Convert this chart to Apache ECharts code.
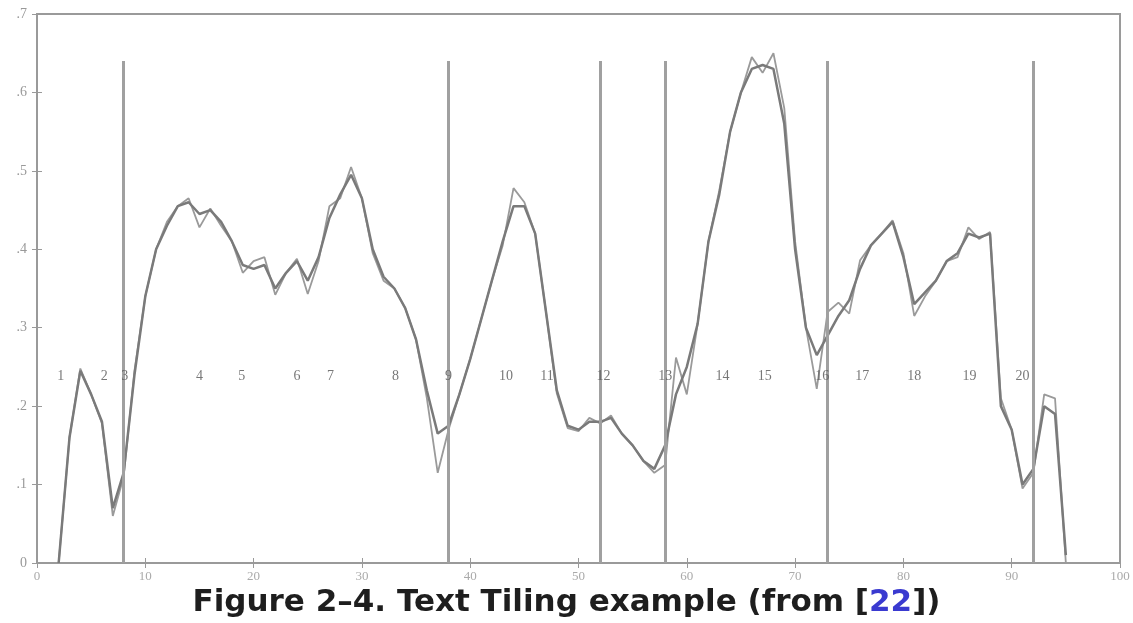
<!DOCTYPE html>
<html><head><meta charset="utf-8">
<script src="https://cdn.jsdelivr.net/npm/echarts@6/dist/echarts.min.js"></script>
<style>html,body{margin:0;padding:0;background:#fff}#c{width:1133px;height:623px}</style>
</head><body><div id="c"></div>
<script>
const xs = [2,3,4,5,6,7,8,9,10,11,12,13,14,15,16,17,18,19,20,21,22,23,24,25,26,27,28,29,30,31,32,33,34,35,36,37,38,39,40,41,42,43,44,45,46,47,48,49,50,51,52,53,54,55,56,57,58,59,60,61,62,63,64,65,66,67,68,69,70,71,72,73,74,75,76,77,78,79,80,81,82,83,84,85,86,87,88,89,90,91,92,93,94,95];
const smoothed = [0.0,0.16,0.245,0.215,0.18,0.07,0.115,0.24,0.34,0.40,0.43,0.455,0.46,0.445,0.45,0.435,0.41,0.38,0.375,0.38,0.35,0.37,0.385,0.36,0.39,0.44,0.47,0.495,0.465,0.40,0.365,0.35,0.325,0.285,0.22,0.165,0.175,0.215,0.26,0.31,0.36,0.41,0.455,0.455,0.42,0.32,0.22,0.175,0.17,0.18,0.18,0.185,0.165,0.15,0.13,0.12,0.15,0.215,0.25,0.305,0.41,0.47,0.55,0.60,0.63,0.635,0.63,0.56,0.40,0.30,0.265,0.29,0.315,0.335,0.375,0.405,0.42,0.435,0.39,0.33,0.345,0.36,0.385,0.395,0.42,0.415,0.42,0.20,0.17,0.10,0.12,0.20,0.19,0.01];
const raw = [0.0,0.16,0.248,0.215,0.178,0.06,0.11,0.245,0.34,0.40,0.435,0.455,0.465,0.428,0.452,0.43,0.41,0.37,0.385,0.39,0.342,0.37,0.388,0.343,0.385,0.455,0.465,0.505,0.465,0.395,0.36,0.35,0.325,0.285,0.21,0.115,0.17,0.215,0.26,0.31,0.36,0.405,0.478,0.46,0.42,0.32,0.216,0.172,0.168,0.185,0.178,0.188,0.165,0.15,0.13,0.115,0.125,0.262,0.215,0.305,0.41,0.475,0.55,0.60,0.645,0.625,0.65,0.58,0.41,0.30,0.222,0.32,0.332,0.318,0.386,0.405,0.42,0.437,0.395,0.315,0.34,0.36,0.385,0.39,0.428,0.413,0.422,0.21,0.17,0.095,0.115,0.215,0.21,0.0];
const boundaries = [8,38,52,58,73,92];
const boundaryTop = 0.64;
const labelNames = ['1','2','3','4','5','6','7','8','9','10','11','12','13','14','15','16','17','18','19','20'];
const labelXs = [2.2,6.2,8.1,15.0,18.9,24.0,27.1,33.1,38.0,43.3,47.1,52.3,58.0,63.3,67.2,72.5,76.2,81.0,86.1,91.0];
const labelY = 0.238;
const xTicks = [0,10,20,30,40,50,60,70,80,90,100];
const yTicks = [0,0.1,0.2,0.3,0.4,0.5,0.6,0.7];

const chart = echarts.init(document.getElementById('c'));
const serif = '"Liberation Serif","DejaVu Serif",serif';
const axisCol = '#9a9a9a';
const titleFont = '"DejaVu Sans",Verdana,sans-serif';
chart.setOption({
  animation:false,
  backgroundColor:'#fff',
  title:{
    text:'{t|Figure 2\u20134. Text Tiling example (from [}{l|22}{t|])}',
    left:'center', top:582,
    textStyle:{rich:{
      t:{fontFamily:titleFont,fontWeight:'bold',fontSize:31,color:'#1e1e1e'},
      l:{fontFamily:titleFont,fontWeight:'bold',fontSize:31,color:'#3a3ad0',textDecoration:'underline'}
    }}
  },
  grid:{left:37,right:13,top:14,bottom:60,show:true,borderColor:axisCol,borderWidth:2},
  xAxis:[{
    type:'value',min:0,max:100,interval:10,
    axisLine:{show:false},
    axisTick:{show:true,inside:true,length:5,lineStyle:{color:axisCol}},
    splitLine:{show:false},
    axisLabel:{color:'#aaa',fontFamily:serif,fontSize:13,margin:7,
      formatter:v=>xTicks.indexOf(v)>=0?String(v):''}
  },{
    type:'value',min:0,max:100,interval:10,position:'top',
    axisLine:{show:false},axisTick:{show:true,inside:true,length:5,lineStyle:{color:axisCol}},
    axisLabel:{show:false},splitLine:{show:false}
  }],
  yAxis:[{
    type:'value',min:0,max:0.7,interval:0.1,
    axisLine:{show:false},
    axisTick:{show:true,inside:true,length:5,lineStyle:{color:axisCol}},
    splitLine:{show:false},
    axisLabel:{color:'#999',fontFamily:serif,fontSize:14,margin:10,
      formatter:v=>{const r=Math.round(v*10)/10; return r===0?'0':String(r).replace('0.','.');}}
  },{
    type:'value',min:0,max:0.7,interval:0.1,position:'right',
    axisLine:{show:false},axisTick:{show:true,inside:true,length:5,lineStyle:{color:axisCol}},
    axisLabel:{show:false},splitLine:{show:false}
  }],
  series:[
    {type:'line',data:xs.map((x,i)=>[x,smoothed[i]]),symbol:'none',
     lineStyle:{color:'#7a7a7a',width:2.5},z:3},
    {type:'line',data:xs.map((x,i)=>[x,raw[i]]),symbol:'none',
     lineStyle:{color:'#9a9a9a',width:1.8},z:2},
    {type:'line',data:[],symbol:'none',
     markLine:{symbol:'none',silent:true,label:{show:false},
       lineStyle:{color:'#a0a0a0',width:3,type:'solid'},
       data:boundaries.map(b=>[{coord:[b,0]},{coord:[b,boundaryTop]}])}},
    {type:'scatter',data:labelXs.map((x,i)=>[x,labelY,labelNames[i]]),symbolSize:0,z:5,
     label:{show:true,position:'inside',formatter:p=>p.data[2],
       fontFamily:serif,fontSize:14,color:'#555'}}
  ]
});
</script></body></html>
